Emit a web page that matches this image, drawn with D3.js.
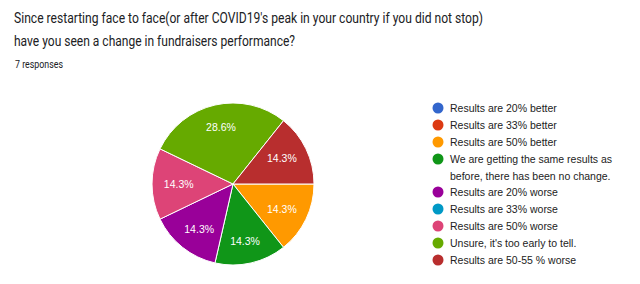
<!DOCTYPE html>
<html lang="en">
<head>
  <meta charset="UTF-8">
  <title>Fundraisers performance</title>
  <script src="https://cdn.jsdelivr.net/npm/d3@7"></script>
  <style>
    body { margin: 0; background: #fff; }
    svg { display: block; }
  </style>
</head>
<body>
  <div id="container"></div>
  <script>
    const svg_width = 640;
    const svg_height = 284;

    // data
    var categories = [
      'Results are 20% better',
      'Results are 33% better',
      'Results are 50% better',
      'We are getting the same results as|before, there has been no change.',
      'Results are 20% worse',
      'Results are 33% worse',
      'Results are 50% worse',
      'Unsure, it\'s too early to tell.',
      'Results are 50-55 % worse'
    ];
    var counts = [0, 0, 1, 1, 1, 0, 1, 2, 1];
    var colors = ['#3366cc', '#dc3912', '#ff9900', '#109618', '#990099', '#0099c6', '#dd4477', '#66aa00', '#b82e2e'];
    var total = d3.sum(counts);

    var svg = d3.select('#container')
      .append('svg')
      .attr('width', svg_width)
      .attr('height', svg_height);

    // title (the original font is narrow, so squeeze it to its width)
    var title = svg.append('g').attr('font-family', 'Roboto, Arial, sans-serif').attr('fill', '#202124');
    title.append('text').attr('x', 14).attr('y', 23).attr('font-size', 15)
      .attr('textLength', 469).attr('lengthAdjust', 'spacingAndGlyphs')
      .text('Since restarting face to face(or after COVID19\'s peak in your country if you did not stop)');
    title.append('text').attr('x', 14).attr('y', 46).attr('font-size', 15)
      .attr('textLength', 281).attr('lengthAdjust', 'spacingAndGlyphs')
      .text('have you seen a change in fundraisers performance?');
    title.append('text').attr('x', 15).attr('y', 68).attr('font-size', 11)
      .attr('textLength', 48).attr('lengthAdjust', 'spacingAndGlyphs')
      .text('7 responses');

    // pie
    var cx = 233, cy = 184, r = 81;
    var pie = d3.pie()
      .sort(null)
      .value(function (d) { return d.v; })
      .startAngle(Math.PI / 2)
      .endAngle(Math.PI / 2 + Math.PI * 2);
    var data = counts.map(function (v, i) { return { v: v, i: i }; });
    var arcs = pie(data).filter(function (d) { return d.data.v > 0; });
    var arc = d3.arc().innerRadius(0).outerRadius(r);

    var g = svg.append('g').attr('transform', 'translate(' + cx + ',' + cy + ')');
    g.selectAll('path')
      .data(arcs)
      .enter()
      .append('path')
      .attr('d', arc)
      .attr('fill', function (d) { return colors[d.data.i]; })
      .attr('stroke', '#fff')
      .attr('stroke-width', 1);

    g.selectAll('text')
      .data(arcs)
      .enter()
      .append('text')
      .attr('x', function (d) { return Math.sin((d.startAngle + d.endAngle) / 2) * r * 0.67; })
      .attr('y', function (d) { return -Math.cos((d.startAngle + d.endAngle) / 2) * r * 0.72; })
      .attr('dy', '0.35em')
      .attr('text-anchor', 'middle')
      .attr('font-family', 'Arial, Liberation Sans, sans-serif')
      .attr('font-size', 10.5)
      .attr('fill', '#fff')
      .text(function (d) { return (d.data.v / total * 100).toFixed(1) + '%'; });

    // legend
    var legend = svg.append('g')
      .attr('font-family', 'Arial, Liberation Sans, sans-serif')
      .attr('font-size', 10.5)
      .attr('fill', '#222');
    var ly = 108;
    categories.forEach(function (c, i) {
      var lines = c.split('|');
      legend.append('circle').attr('cx', 438).attr('cy', ly).attr('r', 5.5).attr('fill', colors[i]);
      lines.forEach(function (t, j) {
        legend.append('text').attr('x', 450).attr('y', ly + j * 17).attr('dy', '0.35em').text(t);
      });
      ly += 17 * lines.length - (lines.length > 1 ? 1 : 0);
    });
  </script>
</body>
</html>
